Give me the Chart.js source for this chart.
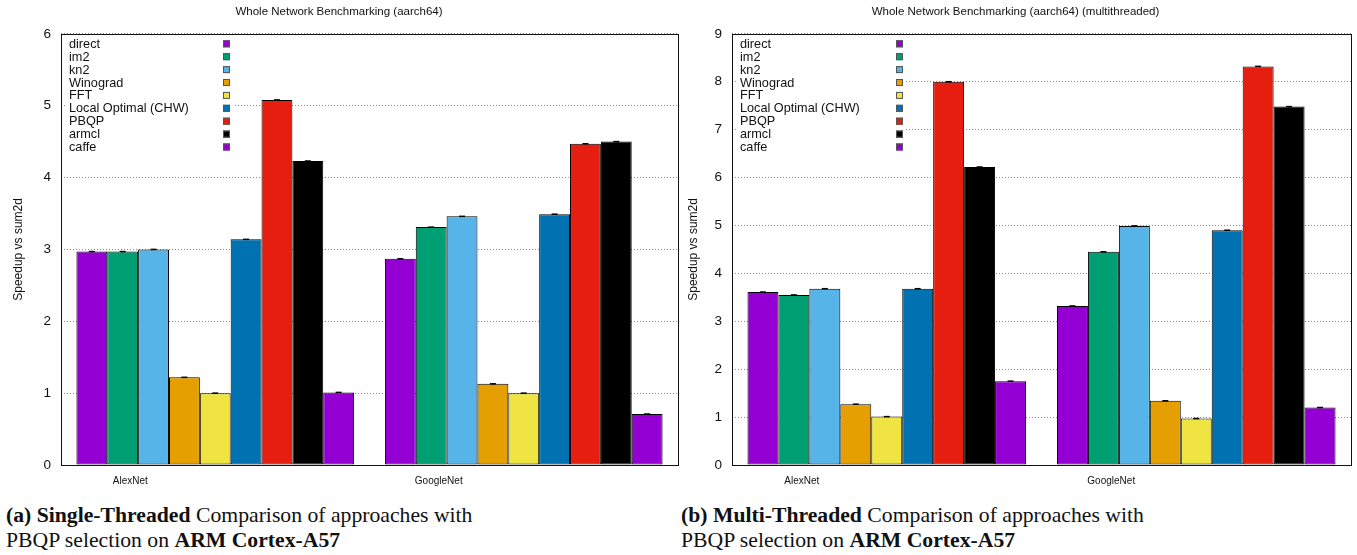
<!DOCTYPE html>
<html>
<head>
<meta charset="utf-8">
<script src="https://cdn.jsdelivr.net/npm/chart.js@4"></script>
<style>
  body { margin: 0; background: #fff; width: 1357px; height: 555px; position: relative; overflow: hidden; }
  .panel { position: absolute; top: 0; height: 500px; }
  .caption { position: absolute; top: 503px; font-family: 'Liberation Serif', 'DejaVu Serif', serif;
             font-size: 21.7px; line-height: 25px; color: #111; white-space: nowrap; }
</style>
</head>
<body>
<div class="panel" style="left:0;width:680px"><canvas id="single"></canvas></div>
<div class="panel" style="left:680px;width:677px"><canvas id="multi"></canvas></div>
<div class="caption" style="left:6px"><b>(a) Single-Threaded</b> Comparison of approaches with<br>PBQP selection on <b>ARM Cortex-A57</b></div>
<div class="caption" style="left:681px"><b>(b) Multi-Threaded</b> Comparison of approaches with<br>PBQP selection on <b>ARM Cortex-A57</b></div>

<script>
const FONT = "'Liberation Sans', Arial, sans-serif";

/* ---------- DATA ---------- */
const networks = ['AlexNet', 'GoogleNet'];
const methods = ['direct', 'im2', 'kn2', 'Winograd', 'FFT', 'Local Optimal (CHW)', 'PBQP', 'armcl', 'caffe'];
const methodColors = ['#9400d3', '#009e73', '#56b4e9', '#e69f00', '#f0e442', '#0072b2', '#e51e10', '#000000', '#9400d3'];

// speedup vs sum2d, one value per method
const singleAlexNet    = [2.97, 2.97, 3.00, 1.22, 1.00, 3.14, 5.08, 4.23, 1.01];
const singleGoogleNet  = [2.87, 3.31, 3.46, 1.13, 1.00, 3.49, 4.47, 4.50, 0.71];
const multiAlexNet     = [3.61, 3.55, 3.68, 1.27, 1.01, 3.68, 8.00, 6.22, 1.75];
const multiGoogleNet   = [3.32, 4.45, 4.99, 1.34, 0.97, 4.90, 8.32, 7.48, 1.20];

const singleYMax = 6;
const multiYMax = 9;

/* ---------- PLUGINS ---------- */
// gnuplot style key: label on the left, small swatch on the right, opaque box
const keyPlugin = {
  id: 'gnuKey',
  beforeDatasetsDraw(chart, args, opts) {
    const ctx = chart.ctx, a = chart.chartArea;
    const x0 = a.left + opts.textX, sx = a.left + opts.swatchX;
    const rowH = 12.9, y0 = a.top + 10;
    ctx.save();
    ctx.fillStyle = '#fff';
    ctx.fillRect(x0 - 2, a.top + 3, sx - x0 + 12, rowH * methods.length + 6);
    ctx.font = '12.7px ' + FONT;
    ctx.textBaseline = 'middle';
    chart.data.datasets.forEach((ds, i) => {
      const y = y0 + i * rowH;
      ctx.fillStyle = '#111';
      ctx.fillText(ds.label, x0, y + 0.5);
      ctx.fillStyle = ds.backgroundColor;
      ctx.fillRect(sx, y - 3.5, 7, 7);
      ctx.strokeStyle = '#555';
      ctx.lineWidth = 1;
      ctx.strokeRect(sx + 0.5, y - 3, 6, 6);
    });
    ctx.restore();
  },
  afterDatasetsDraw(chart) {
    const ctx = chart.ctx, a = chart.chartArea;
    ctx.save();
    // tiny error-bar caps on top of each bar
    ctx.strokeStyle = '#000';
    ctx.lineWidth = 1.5;
    chart.data.datasets.forEach((ds, i) => {
      chart.getDatasetMeta(i).data.forEach(bar => {
        ctx.beginPath();
        ctx.moveTo(bar.x - 3, bar.y);
        ctx.lineTo(bar.x + 3, bar.y);
        ctx.stroke();
      });
    });
    // plot border
    ctx.lineWidth = 1;
    ctx.strokeStyle = '#111';
    ctx.strokeRect(Math.round(a.left) + 0.5, Math.round(a.top) + 0.5,
                   Math.round(a.right - a.left), Math.round(a.bottom - a.top));
    ctx.restore();
  }
};

function buildChart(id, alex, google, yMax, title, axisW, padRight, titlePad, swatchX) {
  const datasets = methods.map((m, i) => ({
    label: m,
    data: [alex[i], google[i]],
    backgroundColor: methodColors[i],
    borderColor: '#000',
    borderWidth: 1,
    borderSkipped: false
  }));

  return new Chart(document.getElementById(id), {
    type: 'bar',
    data: { labels: networks, datasets },
    plugins: [keyPlugin],
    options: {
      responsive: true,
      maintainAspectRatio: false,
      animation: false,
      layout: { padding: { right: padRight, bottom: 0, top: 0 } },
      datasets: { bar: { categoryPercentage: 0.9, barPercentage: 1.0 } },
      plugins: {
        legend: { display: false },
        tooltip: { enabled: false },
        title: {
          display: true,
          text: title,
          color: '#111',
          font: { family: FONT, size: 11.5, weight: 'normal' },
          padding: { top: 5, bottom: 15 }
        },
        gnuKey: { textX: 8, swatchX: swatchX }
      },
      scales: {
        x: {
          grid: { display: false, drawTicks: false },
          border: { display: false },
          ticks: { color: '#111', font: { family: FONT, size: 10 }, padding: 10, labelOffset: -85, maxRotation: 0 },
          afterFit(s) { s.height = 35; }
        },
        y: {
          min: 0,
          max: yMax,
          ticks: { stepSize: 1, color: '#111', font: { family: FONT, size: 13.5 }, padding: 10 },
          grid: { color: '#888', drawTicks: false, lineWidth: 1 },
          border: { display: false, dash: [1, 2] },
          title: {
            display: true,
            text: 'Speedup vs sum2d',
            color: '#111',
            font: { family: FONT, size: 12 },
            padding: { top: titlePad, bottom: 0 }
          },
          afterFit(s) { s.width = axisW; }
        }
      }
    }
  });
}

buildChart('single', singleAlexNet, singleGoogleNet, singleYMax,
  'Whole Network Benchmarking (aarch64)', 61, 2, 11, 162);
buildChart('multi', multiAlexNet, multiGoogleNet, multiYMax,
  'Whole Network Benchmarking (aarch64) (multithreaded)', 52, 6, 6, 164);
</script>
</body>
</html>
